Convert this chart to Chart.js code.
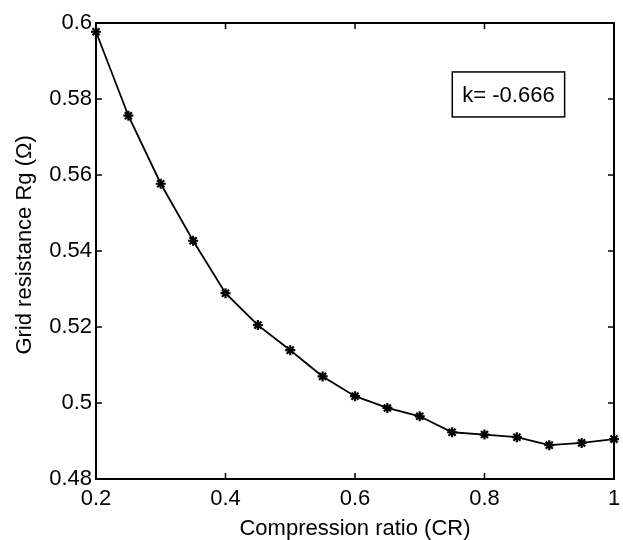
<!DOCTYPE html>
<html>
<head>
<meta charset="utf-8">
<title>Grid resistance vs compression ratio</title>
<script src="https://cdn.jsdelivr.net/npm/chart.js@4.4.1/dist/chart.umd.min.js"></script>
<style>
  html, body { margin: 0; padding: 0; background: #fff; }
  #wrap { width: 623px; height: 540px; }
</style>
</head>
<body>
<div id="wrap"><canvas id="rg-chart" width="623" height="540"></canvas></div>
<script>
// Data
const compressionRatio = [0.2, 0.25, 0.3, 0.35, 0.4, 0.45, 0.5, 0.55, 0.6, 0.65, 0.7, 0.75, 0.8, 0.85, 0.9, 0.95, 1.0];
const gridResistance = [0.5977, 0.5756, 0.5577, 0.5427, 0.5289, 0.5205, 0.5139, 0.5070, 0.5018, 0.4987, 0.4965, 0.4923, 0.4917, 0.4910, 0.4889, 0.4895, 0.4905];
const xTicks = [0.2, 0.4, 0.6, 0.8, 1];
const yTicks = [0.48, 0.5, 0.52, 0.54, 0.56, 0.58, 0.6];
const annotationText = 'k= -0.666';
const annotationAt = [0.837, 0.5812];

const FONT = '"Liberation Sans", Arial, Helvetica, sans-serif';

function fmt(v) {
  return String(Number(v.toFixed(2)));
}

// MATLAB style box with inward ticks on all four sides + text box
const matlabFrame = {
  id: 'matlabFrame',
  beforeDatasetsDraw(chart) {
    const { ctx, chartArea: a, scales: { x, y } } = chart;
    const tl = 6;
    ctx.save();
    ctx.strokeStyle = '#000';
    ctx.lineWidth = 2;
    ctx.strokeRect(a.left, a.top, a.right - a.left, a.bottom - a.top);
    ctx.lineWidth = 1.5;
    ctx.beginPath();
    xTicks.forEach(v => {
      const px = x.getPixelForValue(v);
      ctx.moveTo(px, a.bottom); ctx.lineTo(px, a.bottom - tl);
      ctx.moveTo(px, a.top); ctx.lineTo(px, a.top + tl);
    });
    yTicks.forEach(v => {
      const py = y.getPixelForValue(v);
      ctx.moveTo(a.left, py); ctx.lineTo(a.left + tl, py);
      ctx.moveTo(a.right, py); ctx.lineTo(a.right - tl, py);
    });
    ctx.stroke();
    ctx.restore();
  },
  afterDraw(chart) {
    const { ctx, scales: { x, y } } = chart;
    const cx = x.getPixelForValue(annotationAt[0]);
    const cy = y.getPixelForValue(annotationAt[1]);
    ctx.save();
    ctx.font = '22px ' + FONT;
    const w = ctx.measureText(annotationText).width + 20;
    const h = 45;
    ctx.fillStyle = '#fff';
    ctx.fillRect(cx - w / 2, cy - h / 2, w, h);
    ctx.strokeStyle = '#000';
    ctx.lineWidth = 1.5;
    ctx.strokeRect(cx - w / 2, cy - h / 2, w, h);
    ctx.fillStyle = '#000';
    ctx.textAlign = 'center';
    ctx.textBaseline = 'middle';
    ctx.fillText(annotationText, cx, cy + 1);
    ctx.restore();
  }
};

new Chart(document.getElementById('rg-chart'), {
  type: 'line',
  data: {
    labels: compressionRatio,
    datasets: [{
      data: compressionRatio.map((cr, i) => ({ x: cr, y: gridResistance[i] })),
      borderColor: '#000',
      backgroundColor: '#000',
      borderWidth: 1.8,
      pointStyle: 'star',
      pointRadius: 5,
      pointBorderWidth: 2.2,
      pointBorderColor: '#000',
      tension: 0,
      clip: false
    }]
  },
  options: {
    responsive: false,
    animation: false,
    events: [],
    layout: { autoPadding: false, padding: { top: 23, right: 9, left: 0, bottom: 0 } },
    plugins: {
      legend: { display: false },
      tooltip: { enabled: false }
    },
    scales: {
      x: {
        type: 'linear',
        min: 0.2,
        max: 1,
        afterBuildTicks: s => { s.ticks = xTicks.map(v => ({ value: v })); },
        afterFit: s => { s.height = 61; s.paddingLeft = 0; s.paddingRight = 0; },
        grid: { display: false, drawTicks: false },
        border: { display: false },
        ticks: {
          color: '#000',
          padding: 7,
          maxRotation: 0,
          font: { family: FONT, size: 22 },
          callback: v => fmt(v)
        },
        title: {
          display: true,
          text: 'Compression ratio (CR)',
          color: '#000',
          font: { family: FONT, size: 22, lineHeight: 1 },
          padding: { top: 0, bottom: 0 }
        }
      },
      y: {
        type: 'linear',
        min: 0.48,
        max: 0.6,
        afterBuildTicks: s => { s.ticks = yTicks.map(v => ({ value: v })); },
        afterFit: s => { s.width = 96; s.paddingTop = 0; s.paddingBottom = 0; },
        grid: { display: false, drawTicks: false },
        border: { display: false },
        ticks: {
          color: '#000',
          padding: 4,
          font: { family: FONT, size: 22 },
          callback: v => fmt(v)
        },
        title: {
          display: true,
          // leading spaces nudge the rotated title up, as in the figure
          text: '  Grid resistance Rg (\u03A9)',
          color: '#000',
          font: { family: FONT, size: 22, lineHeight: 1 },
          padding: { top: 14, bottom: 0 }
        }
      }
    }
  },
  plugins: [matlabFrame]
});
</script>
</body>
</html>
